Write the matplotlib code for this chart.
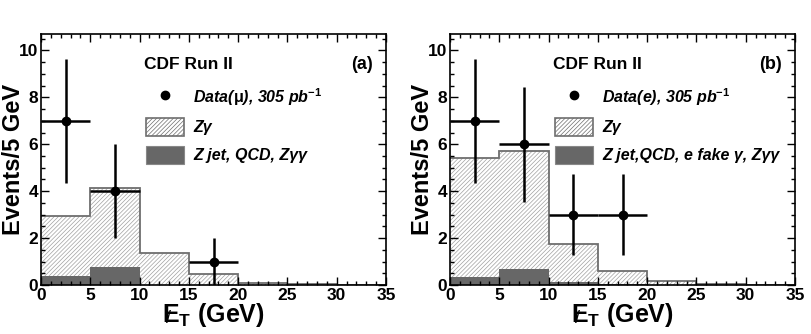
import numpy as np
import matplotlib.pyplot as plt
from matplotlib.lines import Line2D
from matplotlib.patches import Patch
from matplotlib.ticker import MultipleLocator

plt.rcParams['font.family'] = ['Liberation Sans', 'DejaVu Sans']
plt.rcParams['font.weight'] = 'bold'
plt.rcParams['axes.labelweight'] = 'bold'
plt.rcParams['mathtext.fontset'] = 'custom'
plt.rcParams['mathtext.bf'] = 'Liberation Sans:bold'
plt.rcParams['mathtext.it'] = 'Liberation Sans:bold:italic'
plt.rcParams['mathtext.rm'] = 'Liberation Sans:bold'
plt.rcParams['hatch.color'] = '#a0a0a0'
plt.rcParams['hatch.linewidth'] = 0.5

# bin edges (GeV)
edges = [0, 5, 10, 15, 20, 25, 30, 35]
centers = [2.5, 7.5, 12.5, 17.5]

# panel (a): muon channel
tot_a = [2.95, 4.15, 1.35, 0.45, 0.1, 0.03, 0.0]   # Zgamma + other, stacked
bkg_a = [0.4, 0.75, 0.02, 0.02, 0.0, 0.0, 0.0]     # Z jet, QCD, Zgg
data_a = [7, 4, 0, 1]

# panel (b): electron channel
tot_b = [5.4, 5.7, 1.75, 0.6, 0.15, 0.05, 0.0]
bkg_b = [0.35, 0.7, 0.12, 0.05, 0.02, 0.0, 0.0]
data_b = [7, 6, 3, 3]

labels_a = [r"Data($\mathrm{\mu}$), 305 pb$^{\mathbf{-1}}$", "Zγ", "Z jet, QCD, Zγγ"]
labels_b = [r"Data(e), 305 pb$^{\mathbf{-1}}$", "Zγ", "Z jet,QCD, e fake γ, Zγγ"]

fig = plt.figure(figsize=(8.11, 3.34), dpi=100)
ax_a = fig.add_axes([41/811, 49/334, 345/811, 251/334])
ax_b = fig.add_axes([450/811, 49/334, 345/811, 251/334])


def draw_panel(ax, tot, bkg, data, labels, tag):
    ax.stairs(tot, edges, fill=True, facecolor='white', hatch='////////',
              edgecolor='#a0a0a0', linewidth=0)
    ax.stairs(bkg, edges, fill=True, color='#676767', linewidth=0)
    ax.stairs(tot, edges, color='#6e6e6e', linewidth=1.3, baseline=None)

    x = [c for c, d in zip(centers, data) if d > 0]
    y = [d for d in data if d > 0]
    err = np.sqrt(y)
    ax.errorbar(x, y, xerr=2.5, yerr=err, fmt='o', color='black',
                markersize=6, elinewidth=1.8, capsize=0)

    ax.set_xlim(0, 35)
    ax.set_ylim(0, 10.7)
    ax.xaxis.set_major_locator(MultipleLocator(5))
    ax.xaxis.set_minor_locator(MultipleLocator(1))
    ax.yaxis.set_major_locator(MultipleLocator(2))
    ax.yaxis.set_minor_locator(MultipleLocator(0.5))
    ax.tick_params(which='both', direction='in', top=True, right=True,
                   labelsize=12.5, width=1.0, pad=2)
    ax.tick_params(which='major', length=6)
    ax.tick_params(which='minor', length=3)
    for sp in ax.spines.values():
        sp.set_linewidth(1.2)

    ax.set_ylabel("Events/5 GeV", fontsize=17)
    ax.yaxis.set_label_coords(-0.045, 0.5)
    ax.set_xlabel(r"E$_{\mathbf{T}}$ (GeV)", fontsize=18, labelpad=-1)

    ax.text(10.4, 9.4, "CDF Run II", fontsize=12.5, va='center', ha='left')
    ax.text(33.7, 9.4, tag, fontsize=13, va='center', ha='right')

    handles = [
        Line2D([], [], marker='o', linestyle='none', color='black', markersize=6),
        Patch(facecolor='white', hatch='////////', edgecolor='#6e6e6e', linewidth=1.2),
        Patch(facecolor='#676767', edgecolor='#888888', linewidth=0.8),
    ]
    ax.legend(handles, labels, loc='upper left', bbox_to_anchor=(0.304, 0.793),
              frameon=False, borderpad=0, borderaxespad=0, handlelength=2.4,
              handleheight=1.4, labelspacing=0.62, handletextpad=0.55,
              prop={'size': 11.5, 'style': 'italic', 'weight': 'bold'})


draw_panel(ax_a, tot_a, bkg_a, data_a, labels_a, "(a)")
draw_panel(ax_b, tot_b, bkg_b, data_b, labels_b, "(b)")

# missing-E_T slash over the "E" of each x label
fig.canvas.draw()
for ax in (ax_a, ax_b):
    bb = ax.xaxis.label.get_window_extent()
    fig.text(bb.x0 + 6, bb.y0 + 2, "/", fontsize=13, fontweight='normal',
             ha='center', va='bottom', transform=None)

fig.savefig("out.png", dpi=100)
